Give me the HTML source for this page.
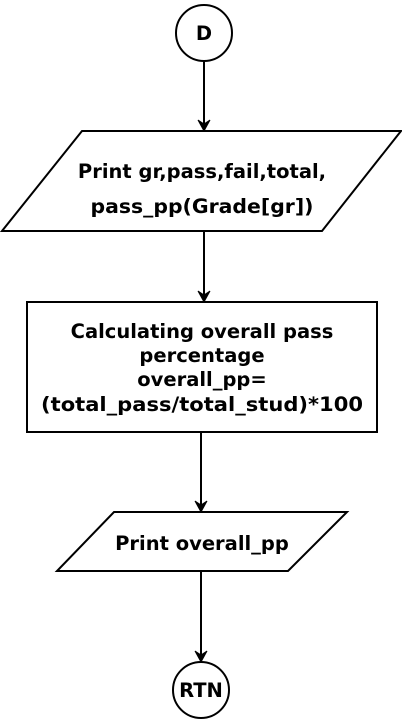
<!DOCTYPE html>
<html><head><meta charset="utf-8"><style>html,body{margin:0;padding:0;background:#fff;}svg{display:block;}text{font-family:"DejaVu Sans","Liberation Sans",sans-serif;font-weight:bold;fill:#000;text-anchor:middle;font-size:19.5px;}</style></head>
<body>
<svg width="402" height="719" viewBox="0 0 402 719">
<g stroke="#000" stroke-width="2" fill="#fff">
<circle cx="204" cy="33" r="28"/>
<line x1="204" y1="61" x2="204" y2="125"/>
<polygon points="82,131 401,131 322,231 2,231"/>
<line x1="204" y1="231" x2="204" y2="296"/>
<rect x="27" y="302" width="350" height="130"/>
<line x1="201" y1="432" x2="201" y2="506"/>
<polygon points="114,512 347,512 288,571 57,571"/>
<line x1="201" y1="571" x2="201" y2="656"/>
<circle cx="201" cy="690" r="28"/>
</g>
<g fill="#000" stroke="#000" stroke-width="1">
<path d="M198,120 L204,131 L210,120 L204,124 Z"/>
<path d="M198,291 L204,302 L210,291 L204,295 Z"/>
<path d="M195,501 L201,512 L207,501 L201,505 Z"/>
<path d="M195,651 L201,662 L207,651 L201,655 Z"/>
</g>
<text x="204" y="40">D</text>
<text x="202" y="178">Print gr,pass,fail,total,</text>
<text x="202" y="213" textLength="223" lengthAdjust="spacingAndGlyphs">pass_pp(Grade[gr])</text>
<text x="202" y="338">Calculating overall pass</text>
<text x="202" y="362">percentage</text>
<text x="202" y="386">overall_pp=</text>
<text x="202" y="411" textLength="322" lengthAdjust="spacingAndGlyphs">(total_pass/total_stud)*100</text>
<text x="202" y="550">Print overall_pp</text>
<text x="201" y="697">RTN</text>
</svg>
</body></html>
